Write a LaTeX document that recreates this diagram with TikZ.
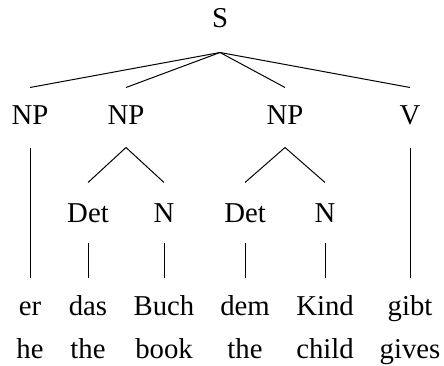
\documentclass[tikz,border=0pt]{standalone}
\usepackage{fontspec}
\setmainfont{Liberation Serif}
\usepackage{tikz}

\tikzset{
  cat/.style={anchor=base, inner sep=0pt, text height=14.8pt, text depth=8.8pt, font=\fontsize{11.5}{14}\selectfont},
  wordgloss/.style={anchor=base, inner sep=0pt, font=\fontsize{11.5}{14}\selectfont}
}

\begin{document}
\begin{tikzpicture}[x=0.4pt, y=-0.4pt]
    % Frame
    \useasboundingbox (0,0) rectangle (444,365);

    % Root
    \node[cat, text depth=9.6pt] (s) at (220, 28) {S};

    % Phrases
    \node[cat] (np1) at (30, 125) {NP};
    \node[cat] (np2) at (126, 125) {NP};
    \node[cat] (np3) at (285, 125) {NP};
    \node[cat] (v) at (410, 125) {V};

    % Determiners and nouns
    \node[cat, text height=15.6pt, text depth=8pt] (det1) at (88, 222) {Det};
    \node[cat, text height=15.6pt, text depth=8pt] (n1) at (164, 222) {N};
    \node[cat, text height=15.6pt, text depth=8pt] (det2) at (245, 222) {Det};
    \node[cat, text height=15.6pt, text depth=8pt] (n2) at (325, 222) {N};

    % Words
    \node[cat] (er) at (30, 315) {er};
    \node[cat] (das) at (88, 315) {das};
    \node[cat] (buch) at (164, 315) {Buch};
    \node[cat] (dem) at (245, 315) {dem};
    \node[cat] (kind) at (325, 315) {Kind};
    \node[cat] (gibt) at (410, 315) {gibt};

    % Glosses
    \node[wordgloss] (he) at (30, 358) {he};
    \node[wordgloss] (the1) at (88, 358) {the};
    \node[wordgloss] (book) at (164, 358) {book};
    \node[wordgloss] (the2) at (245, 358) {the};
    \node[wordgloss] (child) at (325, 358) {child};
    \node[wordgloss] (gives) at (410, 358) {gives};

    % Branches
    \foreach \p in {np1, np2, np3, v}
      \draw (s.south) -- (\p.north);

    \draw (np1.south) -- (er.north);
    \draw (np2.south) -- (det1.north);
    \draw (np2.south) -- (n1.north);
    \draw (np3.south) -- (det2.north);
    \draw (np3.south) -- (n2.north);
    \draw (v.south) -- (gibt.north);

    \foreach \a/\b in {det1/das, n1/buch, det2/dem, n2/kind}
      \draw (\a.south) -- (\b.north);

  \end{tikzpicture}
\end{document}
